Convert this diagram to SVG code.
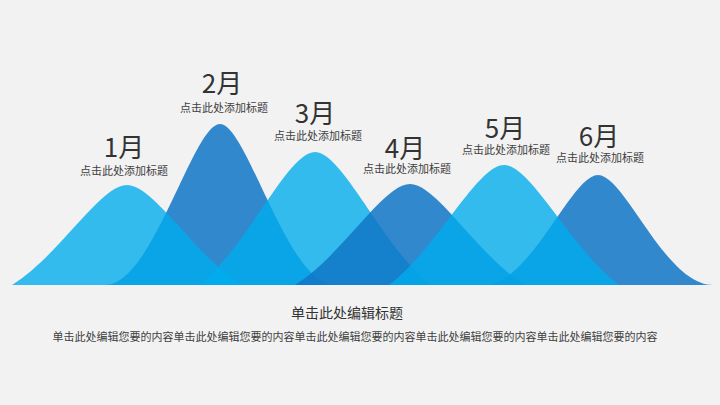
<svg xmlns="http://www.w3.org/2000/svg" width="720" height="405" viewBox="0 0 720 405">
<style>
.light{fill:rgb(0,172,237);fill-opacity:0.79}
.dark{fill:rgb(16,117,197);fill-opacity:0.85}
.m{font-family:"Noto Sans CJK SC","Microsoft YaHei",sans-serif;font-size:26px;fill:#333;text-anchor:middle}
.s{font-family:"Noto Sans CJK SC",sans-serif;font-size:11px;fill:#404040;text-anchor:middle}
.t{font-family:"Noto Sans CJK SC",sans-serif;font-size:14px;fill:#333;text-anchor:middle}
.b{font-family:"Noto Sans CJK SC",sans-serif;font-size:11px;fill:#404040;text-anchor:middle}
</style>
<rect width="720" height="405" fill="#f2f2f2"/>
<g id="mountain2"><path class="dark" d="M105,285 C153,285 193,124 220,124 C247,124 287,285 335,285 Z"/></g>
<g id="mountain6"><path class="dark" d="M483,285 C531,285 571,175 598,175 C625,175 665,285 713,285 Z"/></g>
<g id="mountain1"><path class="light" d="M12,285 C60,255 100,185 127,185 C154,185 194,255 242,285 Z"/></g>
<g id="mountain3"><path class="light" d="M200,285 C248,245 288,152 315,152 C342,152 382,245 430,285 Z"/></g>
<g id="mountain4"><path class="dark" d="M295,285 C343,255 383,184 410,184 C437,184 477,255 525,285 Z"/></g>
<g id="mountain5"><path class="light" d="M389,285 C437,249 477,165 504,165 C531,165 571,249 619,285 Z"/></g>
<g id="label1"><text class="m" x="124" y="157">1月</text><text class="s" x="124" y="175">点击此处添加标题</text></g>
<g id="label2"><text class="m" x="222" y="93">2月</text><text class="s" x="224" y="112">点击此处添加标题</text></g>
<g id="label3"><text class="m" x="315" y="123">3月</text><text class="s" x="318" y="140">点击此处添加标题</text></g>
<g id="label4"><text class="m" x="405" y="158">4月</text><text class="s" x="407" y="173">点击此处添加标题</text></g>
<g id="label5"><text class="m" x="505" y="138">5月</text><text class="s" x="506" y="154">点击此处添加标题</text></g>
<g id="label6"><text class="m" x="599" y="146">6月</text><text class="s" x="600" y="162">点击此处添加标题</text></g>
<g id="footer"><text class="t" x="347" y="318">单击此处编辑标题</text><text class="b" x="355" y="341">单击此处编辑您要的内容单击此处编辑您要的内容单击此处编辑您要的内容单击此处编辑您要的内容单击此处编辑您要的内容</text></g>
<g id="connectors"/>
</svg>
